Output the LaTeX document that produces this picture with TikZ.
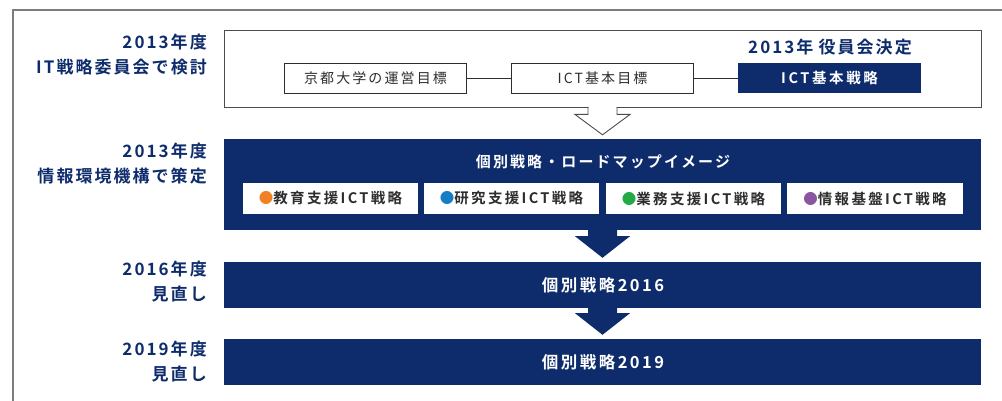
\documentclass[tikz,border=0pt]{standalone}
\usepackage{fontspec}
\setmainfont{Noto Sans CJK JP}
\newfontfamily\jpr{Noto Sans CJK JP}
\newfontfamily\jpb{Noto Sans CJK JP Bold}
\usetikzlibrary{calc}
\definecolor{navy}{RGB}{14,44,108}
\definecolor{ink}{RGB}{45,45,45}
\definecolor{framegray}{RGB}{125,125,125}
\definecolor{bOrange}{RGB}{240,130,35}
\definecolor{bBlue}{RGB}{20,125,195}
\definecolor{bGreen}{RGB}{35,170,70}
\definecolor{bPurple}{RGB}{140,85,160}
\tikzset{
  frameline/.style={draw=framegray,line width=1.3pt},
  topbox/.style={draw=ink!85,line width=0.9pt,fill=white,inner sep=0pt,minimum width=757pt,minimum height=77pt},
  goalbox/.style={draw=ink,line width=0.9pt,fill=white,inner sep=0pt,minimum width=182pt,minimum height=30pt,
    text=ink,font=\jpr\fontsize{14}{16}\selectfont\addfontfeature{LetterSpace=15}},
  stratbox/.style={fill=navy,inner sep=0pt,minimum width=183pt,minimum height=30pt,
    text=white,font=\jpb\fontsize{14.5}{16}\selectfont\addfontfeature{LetterSpace=18}},
  bigbox/.style={fill=navy,inner sep=0pt,minimum width=757pt},
  subbox/.style={fill=white,inner sep=0pt,minimum width=175pt,minimum height=31pt,
    text=ink,font=\jpb\fontsize{14.5}{16}\selectfont\addfontfeature{LetterSpace=16}},
  bartext/.style={text=white,inner sep=0pt,font=\jpb\fontsize{16.5}{18}\selectfont\addfontfeature{LetterSpace=15}},
  titletext/.style={text=white,inner sep=0pt,font=\jpb\fontsize{15}{18}\selectfont\addfontfeature{LetterSpace=14}},
  sidelabel/.style={text=navy,inner sep=0pt,anchor=east,align=right,font=\jpb\fontsize{17}{25}\selectfont\addfontfeature{LetterSpace=12}},
  decided/.style={text=navy,inner sep=0pt,font=\jpb\fontsize{17}{18}\selectfont\addfontfeature{LetterSpace=12}},
  link/.style={draw=ink,line width=0.9pt},
  openarrow/.style={draw=ink!85,line width=0.9pt},
  solidarrow/.style={fill=navy}
}
\begin{document}
\begin{tikzpicture}[x=1pt,y=-1pt]
\useasboundingbox (0,0) rectangle (1002,401);
% outer frame
\draw[frameline] (1002,10) -- (13,10) -- (13,401);

% side labels
\node[sidelabel] (l1) at (207,54.5) {2013年度\\IT戦略委員会で検討};
\node[sidelabel] (l2) at (207,164) {2013年度\\情報環境機構で策定};
\node[sidelabel] (l3) at (207,282) {2016年度\\見直し};
\node[sidelabel] (l4) at (207,361.5) {2019年度\\見直し};

% top box
\node[topbox] (top) at (602.5,68.5) {};
\node[goalbox] (kyoto) at (375.5,78) {京都大学の運営目標};
\node[goalbox] (ictgoal) at (602.5,78) {ICT基本目標};
\node[stratbox] (ictstrat) at (829.5,78) {ICT基本戦略};
\node[decided] (dec) at (830,47) {2013年\hspace{0.3em}役員会決定};
\draw[link] (kyoto.east) -- (ictgoal.west);
\draw[link] (ictgoal.east) -- (ictstrat.west);

% big box
\node[bigbox,minimum height=91pt] (box1) at (602.5,184.5) {};
\node[titletext] (title) at (603,161.5) {個別戦略・ロードマップイメージ};
\node[subbox] (s1) at (330.5,198.5) {{\color{bOrange}●}教育支援ICT戦略};
\node[subbox] (s2) at (511.5,198.5) {{\color{bBlue}●}研究支援ICT戦略};
\node[subbox] (s3) at (693.5,198.5) {{\color{bGreen}●}業務支援ICT戦略};
\node[subbox,minimum width=176pt] (s4) at (875,198.5) {{\color{bPurple}●}情報基盤ICT戦略};

\node[bigbox,minimum height=46pt] (box2) at (602.5,285) {};
\node[bartext] (t2) at (603,285) {個別戦略2016};
\node[bigbox,minimum height=46pt] (box3) at (602.5,362) {};
\node[bartext] (t3) at (603,362) {個別戦略2019};

% open arrow from top box
\fill[white] ([xshift=-14pt,yshift=1.5pt]top.south) -- ([xshift=-14pt,yshift=-7pt]top.south)
  -- ([xshift=-27pt,yshift=-7pt]top.south) -- ([yshift=4pt]box1.north)
  -- ([xshift=27pt,yshift=-7pt]top.south) -- ([xshift=14pt,yshift=-7pt]top.south)
  -- ([xshift=14pt,yshift=1.5pt]top.south) -- cycle;
\draw[openarrow] ([xshift=-14.5pt]top.south) -- ++(0,7) -- ++(-13,0)
  -- ([yshift=4pt]box1.north) -- ($(top.south)+(27.5,7)$) -- ++(-13,0) -- ++(0,-7);

% solid arrows
\fill[solidarrow] ([xshift=-14.5pt,yshift=0.5pt]box1.south) -- ++(0,6.5) -- ++(-13,0)
  -- ([yshift=4pt]box2.north) -- ($(box1.south)+(27.5,6)$) -- ++(-13,0) -- ++(0,-6.5) -- cycle;
\fill[solidarrow] ([xshift=-14.5pt,yshift=0.5pt]box2.south) -- ++(0,5.5) -- ++(-13,0)
  -- ([yshift=4pt]box3.north) -- ($(box2.south)+(27.5,5)$) -- ++(-13,0) -- ++(0,-5.5) -- cycle;
\end{tikzpicture}
\end{document}
